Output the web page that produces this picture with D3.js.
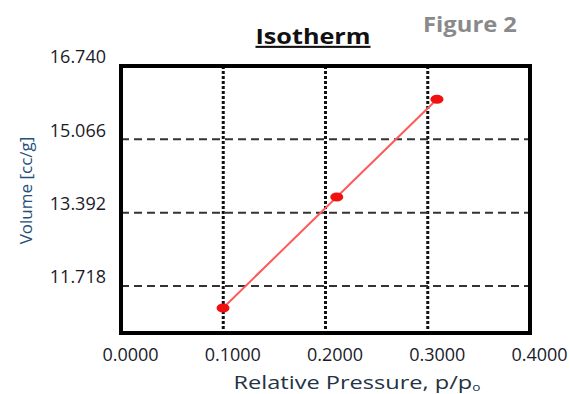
<!DOCTYPE html>
<html>
<head>
<meta charset="utf-8">
<script src="https://d3js.org/d3.v7.min.js"></script>
<style>
  body { margin: 0; background: #fff; }
  text { font-family: "Open Sans", "Noto Sans", sans-serif; }
</style>
</head>
<body>
<div id="chart"></div>
<script>
// data
var pressure = [0.0998, 0.211, 0.309];
var volume = [11.216, 13.75, 15.98];
var xTicks = [0.0, 0.1, 0.2, 0.3, 0.4];
var yTicks = [11.718, 13.392, 15.066, 16.740];

var W = 570, H = 394;
var margin = {top: 66, right: 40, bottom: 61, left: 121},
    width = W - margin.left - margin.right,
    height = H - margin.top - margin.bottom;

var svg = d3.select("#chart").append("svg")
    .attr("width", W).attr("height", H);

var g = svg.append("g")
    .attr("transform", "translate(" + margin.left + "," + margin.top + ")");

var x = d3.scaleLinear().domain([0, 0.4]).range([0, width]);
var y = d3.scaleLinear().domain([10.645, 16.740]).range([height, 0]);

// grid lines
g.selectAll(".vgrid").data(xTicks.slice(1, 4)).enter().append("line")
    .attr("x1", d => x(d)).attr("x2", d => x(d))
    .attr("y1", 0).attr("y2", height)
    .attr("stroke", "#111").attr("stroke-width", 3)
    .attr("stroke-dasharray", "3,2");

g.selectAll(".hgrid").data(yTicks.slice(0, 3)).enter().append("line")
    .attr("x1", 0).attr("x2", width)
    .attr("y1", d => y(d)).attr("y2", d => y(d))
    .attr("stroke", "#333").attr("stroke-width", 2)
    .attr("stroke-dasharray", "8,5");

// axes (labels only)
var xAxis = g.append("g")
    .attr("transform", "translate(0," + height + ")")
    .call(d3.axisBottom(x).tickValues(xTicks).tickFormat(d3.format(".4f")).tickSize(0).tickPadding(15));
var yAxis = g.append("g")
    .call(d3.axisLeft(y).tickValues(yTicks).tickFormat(d3.format(".3f")).tickSize(0).tickPadding(15));
[xAxis, yAxis].forEach(function(a) {
  a.select(".domain").remove();
  a.selectAll("text").attr("font-size", 18).attr("fill", "#1a1a2a")
    .style("font-family", "'Open Sans', sans-serif");
});
xAxis.selectAll("text").attr("dx", 9);
yAxis.selectAll("text").attr("dy", "-0.18em");

// frame
g.append("rect")
    .attr("x", 0).attr("y", 0).attr("width", width).attr("height", height)
    .attr("fill", "none").attr("stroke", "#000").attr("stroke-width", 4);

// series
var pts = pressure.map((p, i) => [p, volume[i]]);
g.append("path")
    .datum(pts)
    .attr("d", d3.line().x(d => x(d[0])).y(d => y(d[1])))
    .attr("fill", "none").attr("stroke", "#ff5a5a").attr("stroke-width", 2);
g.selectAll(".pt").data(pts).enter().append("ellipse")
    .attr("cx", d => x(d[0])).attr("cy", d => y(d[1]))
    .attr("rx", 6.5).attr("ry", 4.5)
    .attr("fill", "#f01010");

// titles
svg.append("text")
    .attr("transform", "translate(313,44) scale(1.2,1)")
    .attr("text-anchor", "middle")
    .attr("font-size", 21).attr("font-weight", "bold")
    .attr("text-decoration", "underline")
    .attr("fill", "#111")
    .text("Isotherm");

svg.append("text")
    .attr("transform", "translate(470,32) scale(1.08,1)")
    .attr("text-anchor", "middle")
    .attr("font-size", 22).attr("font-weight", "bold")
    .attr("fill", "#8a8a8a")
    .text("Figure 2");

svg.append("text")
    .attr("transform", "translate(32," + (margin.top + height / 2 - 9) + ") rotate(-90)")
    .attr("text-anchor", "middle")
    .attr("font-size", 17).attr("fill", "#24507a")
    .text("Volume [cc/g]");

var xt = svg.append("text")
    .attr("transform", "translate(357,389) scale(1.24,1)")
    .attr("text-anchor", "middle")
    .attr("font-size", 19).attr("fill", "#233244");
xt.append("tspan").text("Relative Pressure, p/p");
xt.append("tspan").attr("font-size", 11).attr("dy", 2).text("o");
</script>
</body>
</html>
